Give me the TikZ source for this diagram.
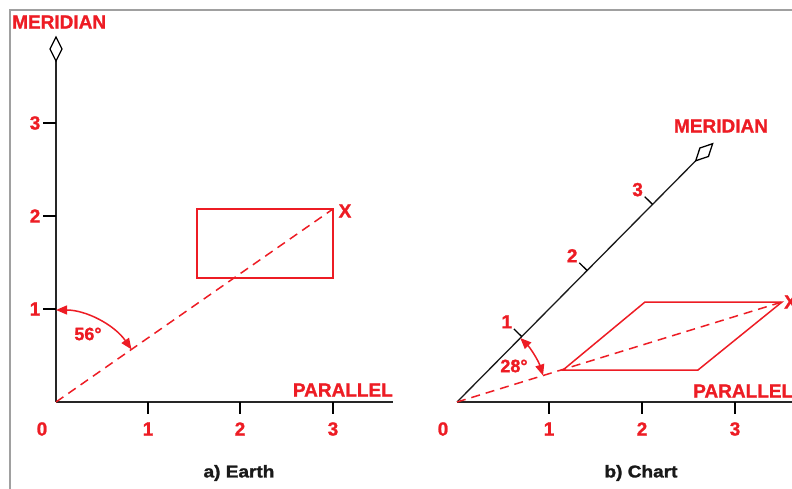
\documentclass[tikz,border=0pt]{standalone}
\usepackage{fontspec}
\setmainfont{Liberation Sans}
\newfontfamily\heavyfont{Liberation Sans}[BoldFeatures={FakeBold=1.2}]
\newfontfamily\capfont{Liberation Sans}[BoldFeatures={FakeBold=1.6,FakeStretch=1.12}]
\usetikzlibrary{arrows.meta,calc}
\definecolor{cred}{RGB}{237,28,36}
\definecolor{frame}{RGB}{160,160,160}
\begin{document}
\begin{tikzpicture}[x=1pt,y=1pt,
  lbl/.style={text=cred,font=\heavyfont\fontsize{19}{19}\selectfont\bfseries,inner sep=0pt},
  numlbl/.style={text=cred,font=\heavyfont\fontsize{19}{19}\selectfont\bfseries,inner sep=0pt},
  anglbl/.style={text=cred,font=\heavyfont\fontsize{18}{18}\selectfont\bfseries,inner sep=0pt},
  caplbl/.style={text=black!90,font=\capfont\fontsize{17}{17}\selectfont\bfseries,inner sep=0pt},
  axisline/.style={draw=black!85,line width=2pt},
  tickline/.style={draw=black,line width=2pt},
  redline/.style={draw=cred,line width=1.5pt},
  reddash/.style={draw=cred,line width=1.5pt,dash pattern=on 9pt off 6pt},
  angarrow/.style={draw=cred,line width=1.5pt,{Triangle[length=11pt,width=9pt]}-{Triangle[length=11pt,width=9pt]}},
  diam/.style={draw=black,line width=1.3pt,fill=white,line join=miter}]
\useasboundingbox (0,0) rectangle (792,488);
% frame
\draw[frame,line width=2pt] (10,-2) -- (10,478) -- (794,478);

% ---------- a) Earth ----------
\coordinate (OA) at (56,86);
\coordinate (VA) at (56,427);
\coordinate (HA) at (393,86);
\draw[axisline] (OA) -- (VA);
\draw[axisline] (OA) -- (HA);
\draw[diam] (VA) -- (62,439) -- (56,451) -- (50,439) -- cycle;
\node[lbl,anchor=west] (merA) at (12,466) {MERIDIAN};
\node[lbl,anchor=east] (parA) at (393,98) {PARALLEL};
\foreach \y/\t in {179/1,272/2,365/3}{
  \draw[tickline] (43,\y) -- (56,\y);
  \node[numlbl] (va\t) at (35,\y) {\t};
}
\foreach \x/\t in {148/1,240/2,333/3}{
  \draw[tickline] (\x,86) -- (\x,74);
  \node[numlbl] (ha\t) at (\x,59) {\t};
}
\node[numlbl] (ha0) at (42,59) {0};
\coordinate (XA) at (333,279);
\draw[redline] (197,279) rectangle (333,210);
\draw[reddash] (OA) -- (XA);
\node[lbl] (xa) at (345,277) {X};
\draw[angarrow] ($(OA)+(90:92)$) arc[start angle=90,end angle=34.87,radius=92];
\node[anglbl] (angA) at (88,154) {56°};
\node[caplbl] (capA) at (239,15) {a) Earth};

% ---------- b) Chart ----------
\coordinate (OB) at (457,86);
\coordinate (HB) at (800,86);
\draw[axisline] (OB) -- (HB);
\foreach \x/\t in {549/1,642/2,735/3}{
  \draw[tickline] (\x,86) -- (\x,74);
  \node[numlbl] (hb\t) at (\x,59) {\t};
}
\node[numlbl] (hb0) at (443,59) {0};
\coordinate (VB) at ($(OB)+(45.3:339.4)$);
\draw[draw=black!90,line width=1.3pt] (OB) -- (VB);
\draw[diam] (VB) -- ($(VB)+(45.3:12)+(135.3:6)$) -- ($(VB)+(45.3:24)$) -- ($(VB)+(45.3:12)+(-44.7:6)$) -- cycle;
\foreach \d/\t in {92/1,185/2,278/3}{
  \coordinate (tb\t) at ($(OB)+(45.3:\d)$);
  \draw[draw=black,line width=1.3pt] (tb\t) -- ++(135.3:11);
  \node[numlbl] (vb\t) at ($(tb\t)+(135.3:21)$) {\t};
}
\node[lbl] (merB) at (721,362) {MERIDIAN};
\node[lbl,anchor=west] (parB) at (693,97) {PARALLEL};
\coordinate (XB) at (782,186);
\draw[redline,line join=miter] (563,118) -- (698,118) -- (XB) -- (645,186) -- cycle;
\draw[reddash] (OB) -- (XB);
\node[lbl,anchor=west] (xb) at (784,186) {X};
\draw[angarrow] ($(OB)+(45.3:90)$) arc[start angle=45.3,end angle=17.1,radius=90];
\node[anglbl] (angB) at (514,122) {28°};
\node[caplbl] (capB) at (641,15) {b) Chart};
\end{tikzpicture}
\end{document}
